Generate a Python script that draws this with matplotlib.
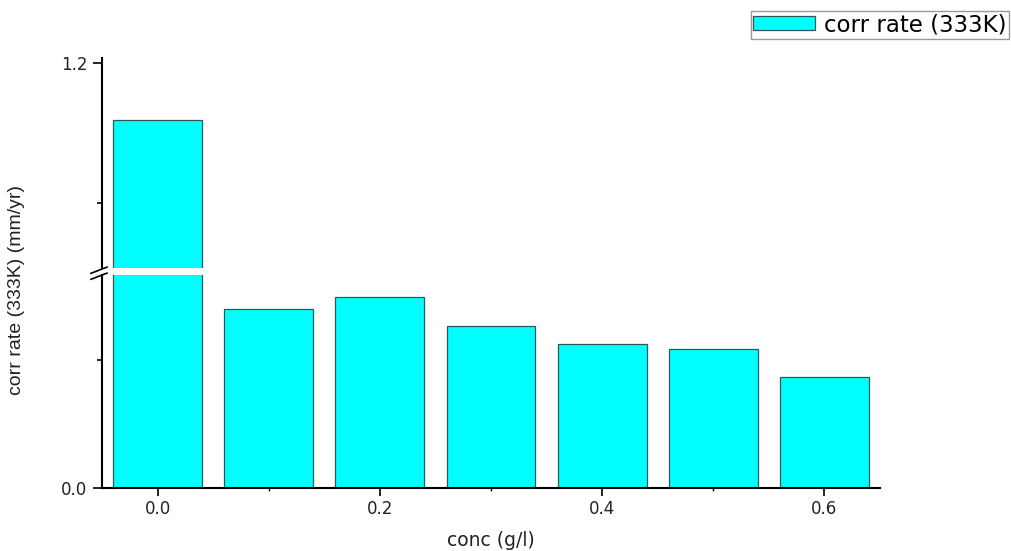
import numpy as np
import matplotlib
matplotlib.use("Agg")
import matplotlib.pyplot as plt
from matplotlib.ticker import FixedLocator, MultipleLocator, FormatStrFormatter
from matplotlib.lines import Line2D

# data
conc = [0.0, 0.1, 0.2, 0.3, 0.4, 0.5, 0.6]
corr_rate = [1.118, 0.280, 0.298, 0.253, 0.225, 0.217, 0.173]
series_label = 'corr rate (333K)'

W, H = 1011, 551
fig = plt.figure(figsize=(W / 100, H / 100), dpi=100)

# broken y axis: upper part and lower part
ax_top = fig.add_axes([102 / W, (H - 268) / H, (880 - 102) / W, (268 - 58) / H])
ax_low = fig.add_axes([102 / W, (H - 488) / H, (880 - 102) / W, (488 - 275) / H])

bar_color = '#00FFFF'
edge_color = '#2E5858'

for ax in (ax_top, ax_low):
    bars = ax.bar(conc, corr_rate, width=0.08, color=bar_color,
                  edgecolor=edge_color, linewidth=0.9, zorder=2)
    ax.set_xlim(-0.05, 0.65)
    ax.spines['top'].set_visible(False)
    ax.spines['right'].set_visible(False)
    ax.spines['left'].set_linewidth(1.5)
    ax.spines['bottom'].set_linewidth(1.5)
    ax.tick_params(axis='y', which='major', length=6.5, width=1.2, pad=4)
    ax.tick_params(axis='y', which='minor', length=3.5, width=1.2)
    ax.yaxis.set_major_formatter(FormatStrFormatter('%.1f'))

ax_top.set_ylim(0.9075, 1.207)
ax_top.yaxis.set_major_locator(FixedLocator([1.2]))
ax_top.yaxis.set_minor_locator(FixedLocator([1.0]))
ax_top.spines['bottom'].set_visible(False)
ax_top.set_xticks([])
ax_top.tick_params(axis='x', which='both', bottom=False, labelbottom=False)

ax_low.set_ylim(0, 0.333)
ax_low.yaxis.set_major_locator(FixedLocator([0.0]))
ax_low.yaxis.set_minor_locator(FixedLocator([0.2]))
ax_low.xaxis.set_major_locator(MultipleLocator(0.2))
ax_low.xaxis.set_minor_locator(MultipleLocator(0.1))
ax_low.xaxis.set_major_formatter(FormatStrFormatter('%.1f'))
ax_low.tick_params(axis='x', which='major', length=5.8, width=1.2, pad=3)
ax_low.tick_params(axis='x', which='minor', length=2.5, width=1.0)

for ax in (ax_top, ax_low):
    for lab in ax.get_yticklabels() + ax.get_xticklabels():
        lab.set_fontfamily('DejaVu Sans')
        lab.set_fontsize(12)
        lab.set_color('#222222')

ax_low.set_xlabel('conc (g/l)', fontfamily='DejaVu Sans', fontsize=13.5,
                  color='#222222', labelpad=9)
fig.text(17 / W, 1 - 290 / H, 'corr rate (333K) (mm/yr)', rotation=90,
         ha='center', va='center', fontsize=14, color='#222222',
         family=['Liberation Sans Narrow', 'Liberation Sans', 'DejaVu Sans'])

# break marks on the y axis
for py in (269.0, 275.0):
    fig.add_artist(Line2D([91 / W, 107 / W],
                          [1 - (py + 4.3) / H, 1 - (py - 1.9) / H],
                          color='black', linewidth=1.2))

leg = fig.legend([bars], [series_label], loc='upper right',
                 bbox_to_anchor=(1009 / W, 1 - 11 / H),
                 prop=dict(family='DejaVu Sans', size=16.5),
                 fancybox=False, framealpha=1, edgecolor='#999999',
                 handlelength=2.7, handleheight=0.55, handletextpad=0.4,
                 borderpad=0.1, borderaxespad=0)
leg.get_frame().set_linewidth(1.0)

fig.savefig('out.png', dpi=100)
